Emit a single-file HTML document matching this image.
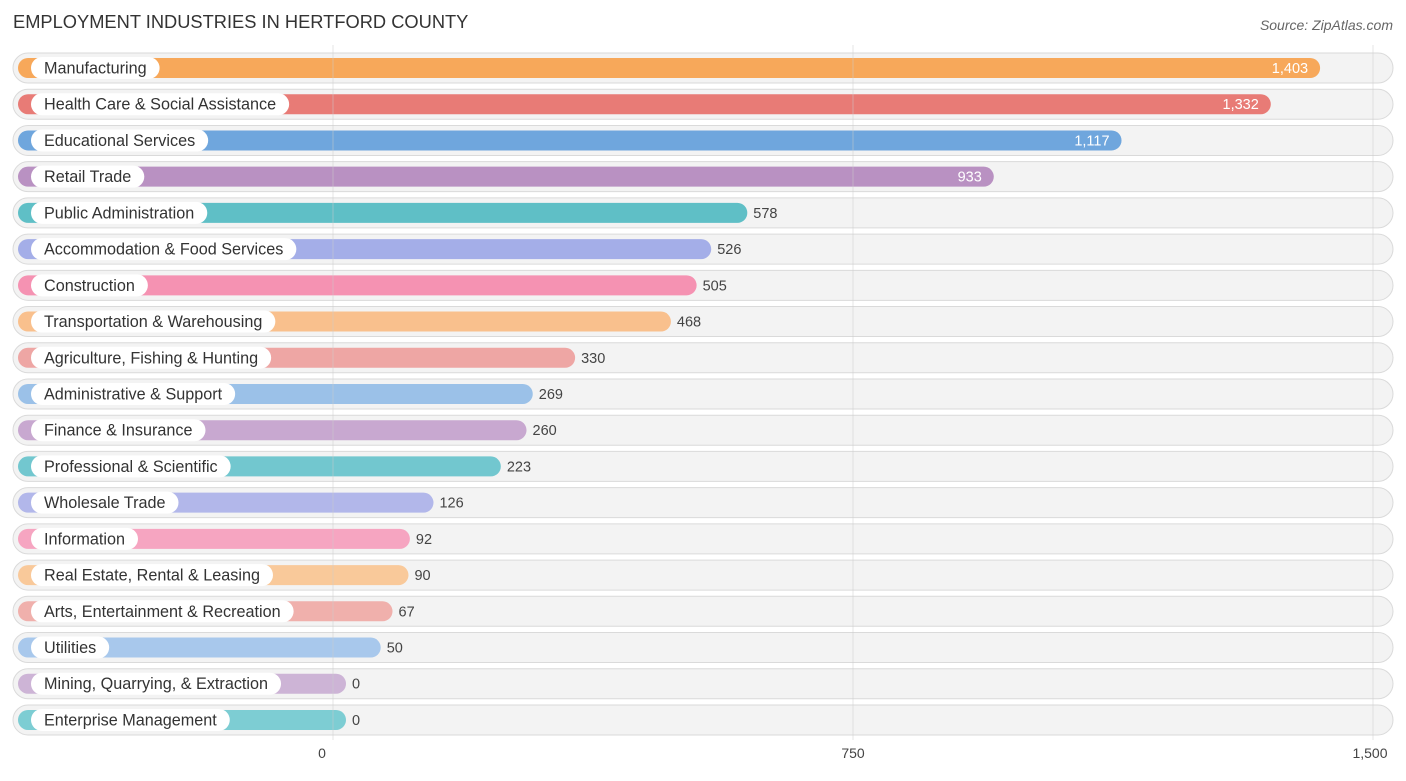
<!DOCTYPE html>
<html><head><meta charset="utf-8"><style>
body{margin:0;background:#fff;font-family:"Liberation Sans",sans-serif;}
svg text{font-family:"Liberation Sans",sans-serif;}
</style></head><body>
<svg width="1406" height="776" xmlns="http://www.w3.org/2000/svg" id="chart">
<text x="13" y="28" font-size="18.3" fill="#333">EMPLOYMENT INDUSTRIES IN HERTFORD COUNTY</text>
<text x="1393" y="30" font-size="14" fill="#666" font-style="italic" text-anchor="end">Source: ZipAtlas.com</text>
<g id="rows"></g><g id="grid"></g><g id="ticks"></g>
</svg>
<script>
const categories=["Manufacturing","Health Care & Social Assistance","Educational Services","Retail Trade","Public Administration","Accommodation & Food Services","Construction","Transportation & Warehousing","Agriculture, Fishing & Hunting","Administrative & Support","Finance & Insurance","Professional & Scientific","Wholesale Trade","Information","Real Estate, Rental & Leasing","Arts, Entertainment & Recreation","Utilities","Mining, Quarrying, & Extraction","Enterprise Management"];
const values=[1403,1332,1117,933,578,526,505,468,330,269,260,223,126,92,90,67,50,0,0];
const colors=["#f7a85a","#e87b76","#6fa6dd","#b991c2","#5fbfc6","#a4aee8","#f592b2","#f9c08d","#eea6a4","#9bc1e8","#c8a8d0","#72c7cf","#b2b7ea","#f6a5c1","#f9c99a","#f0b0ac","#a8c8ec","#cdb4d6","#7dcdd3"];
const tickValues=[0,750,1500];
const tickLabels=["0","750","1,500"];
const NS="http://www.w3.org/2000/svg";
function xGrid(v){return 333+v*520/750;}
function xBar(v){return 346+v*0.6943;}
function yRow(i){return 68+i*36.22;}
function mk(tag,attrs,parent){const e=document.createElementNS(NS,tag);for(const k in attrs)e.setAttribute(k,attrs[k]);parent.appendChild(e);return e;}
const grid=document.getElementById('grid'),rows=document.getElementById('rows'),ticks=document.getElementById('ticks');
tickValues.forEach((t,i)=>{
  const l=mk('line',{x1:xGrid(t),x2:xGrid(t),y1:45,y2:740,stroke:'#ccc','stroke-width':1,'stroke-opacity':0.5},grid);
  
  
  const tx=mk('text',{x:xGrid(t)-(i==2?3:0)-(i==0?11:0),y:758,'font-size':14,fill:'#444','text-anchor':'middle'},ticks);
  tx.textContent=tickLabels[i];
  
  
});
const meas=document.createElementNS(NS,'text');meas.setAttribute('font-size',16.2);document.getElementById('chart').appendChild(meas);
categories.forEach((c,i)=>{
  const y=yRow(i);
  const g=mk('g',{},rows);
  
  
  const bg=mk('rect',{x:13,y:y-15,width:1380,height:30,rx:15,fill:'#f3f3f3',stroke:'#dadada','stroke-width':1},g);
  
  
  const w=xBar(values[i])-18;
  const b=mk('rect',{x:18,y:y-10,width:w,height:20,rx:10,fill:colors[i]},g);
  
  
  meas.textContent=c;const tw=meas.getComputedTextLength();
  const p=mk('rect',{x:31,y:y-11,width:tw+26,height:22,rx:11,fill:'#fff'},g);
  
  
  const t=mk('text',{x:44,y:y+5.5,'font-size':16.2,fill:'#333'},g);
  t.textContent=c;
  
  
  const inside=values[i]>800;
  const vt=mk('text',{x:inside?xBar(values[i])-12:xBar(values[i])+6,y:y+5,'font-size':14.5,fill:inside?'#fff':'#444','text-anchor':inside?'end':'start'},g);
  vt.textContent=values[i].toLocaleString('en-US');
  
  
});
meas.remove();
</script>
</body></html>
